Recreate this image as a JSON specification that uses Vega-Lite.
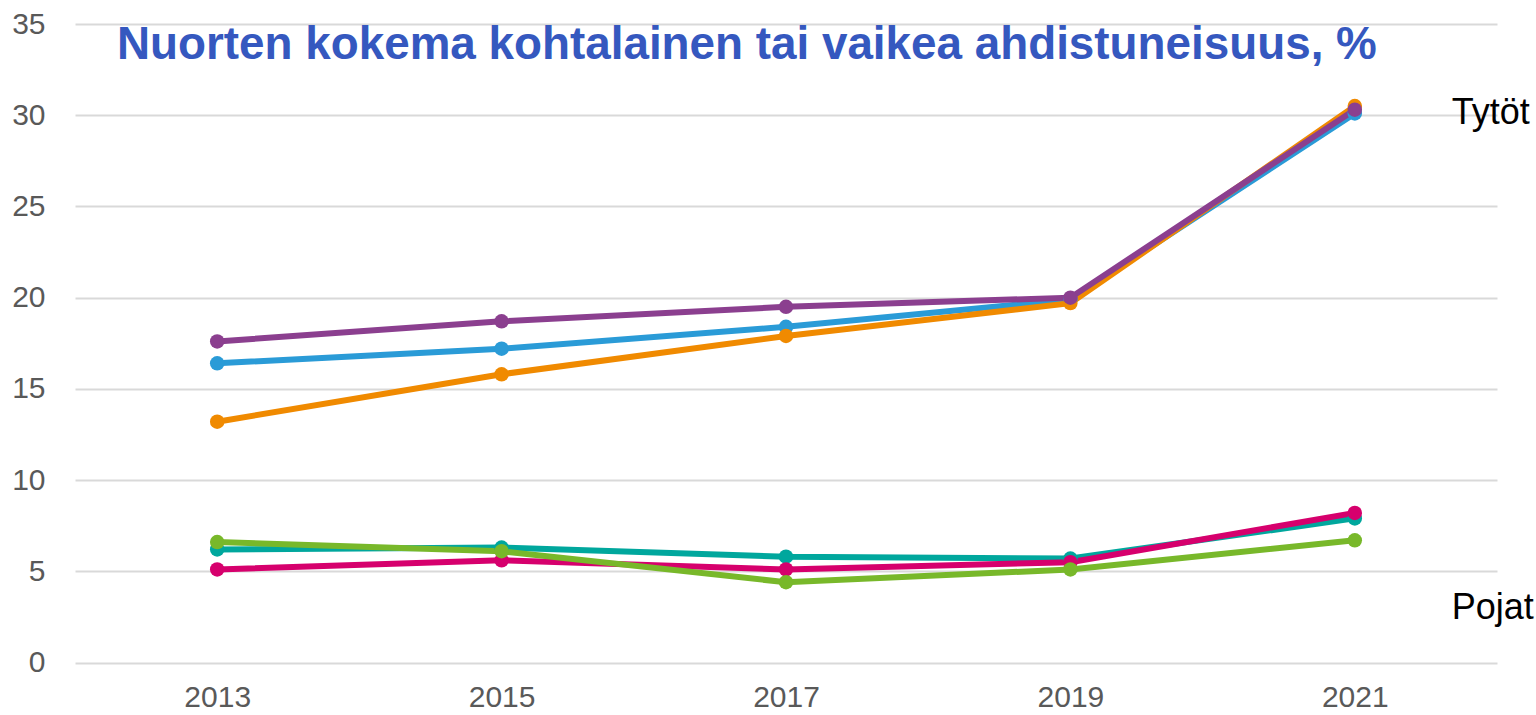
{
  "$schema": "https://vega.github.io/schema/vega-lite/v6.json",
  "width": 1422,
  "height": 638.5,
  "autosize": {"type": "none"},
  "padding": {"left": 75, "top": 24, "right": 39, "bottom": 52.5},
  "background": "white",
  "title": {
    "text": "Nuorten kokema kohtalainen tai vaikea ahdistuneisuus, %",
    "anchor": "start",
    "frame": "group",
    "orient": "top",
    "offset": 0,
    "dx": 42,
    "dy": 96,
    "baseline": "alphabetic",
    "font": "Liberation Sans",
    "fontWeight": "bold",
    "fontSize": 45.8,
    "color": "#3558BF"
  },
  "datasets": {
    "series": [
      {"series": "Tytöt ammatillinen", "year": "2013", "value": 16.4},
      {"series": "Tytöt ammatillinen", "year": "2015", "value": 17.2},
      {"series": "Tytöt ammatillinen", "year": "2017", "value": 18.4},
      {"series": "Tytöt ammatillinen", "year": "2019", "value": 19.9},
      {"series": "Tytöt ammatillinen", "year": "2021", "value": 30.1},
      {"series": "Tytöt lukio", "year": "2013", "value": 13.2},
      {"series": "Tytöt lukio", "year": "2015", "value": 15.8},
      {"series": "Tytöt lukio", "year": "2017", "value": 17.9},
      {"series": "Tytöt lukio", "year": "2019", "value": 19.7},
      {"series": "Tytöt lukio", "year": "2021", "value": 30.5},
      {"series": "Tytöt 8.–9. lk", "year": "2013", "value": 17.6},
      {"series": "Tytöt 8.–9. lk", "year": "2015", "value": 18.7},
      {"series": "Tytöt 8.–9. lk", "year": "2017", "value": 19.5},
      {"series": "Tytöt 8.–9. lk", "year": "2019", "value": 20.0},
      {"series": "Tytöt 8.–9. lk", "year": "2021", "value": 30.3},
      {"series": "Pojat ammatillinen", "year": "2013", "value": 6.2},
      {"series": "Pojat ammatillinen", "year": "2015", "value": 6.3},
      {"series": "Pojat ammatillinen", "year": "2017", "value": 5.8},
      {"series": "Pojat ammatillinen", "year": "2019", "value": 5.7},
      {"series": "Pojat ammatillinen", "year": "2021", "value": 7.9},
      {"series": "Pojat 8.–9. lk", "year": "2013", "value": 5.1},
      {"series": "Pojat 8.–9. lk", "year": "2015", "value": 5.6},
      {"series": "Pojat 8.–9. lk", "year": "2017", "value": 5.1},
      {"series": "Pojat 8.–9. lk", "year": "2019", "value": 5.5},
      {"series": "Pojat 8.–9. lk", "year": "2021", "value": 8.2},
      {"series": "Pojat lukio", "year": "2013", "value": 6.6},
      {"series": "Pojat lukio", "year": "2015", "value": 6.1},
      {"series": "Pojat lukio", "year": "2017", "value": 4.4},
      {"series": "Pojat lukio", "year": "2019", "value": 5.1},
      {"series": "Pojat lukio", "year": "2021", "value": 6.7}
    ],
    "labels": [
      {"label": "Tytöt", "year": "2021", "value": 30.1},
      {"label": "Pojat", "year": "2021", "value": 3.0}
    ]
  },
  "config": {
    "view": {"stroke": null},
    "font": "Liberation Sans"
  },
  "layer": [
    {
      "data": {"name": "series"},
      "mark": {"type": "line", "strokeWidth": 6, "point": {"filled": true, "size": 210, "opacity": 1}},
      "encoding": {
        "x": {
          "field": "year",
          "type": "ordinal",
          "sort": null,
          "scale": {"type": "point", "padding": 0.5},
          "axis": {
            "title": null,
            "labelAngle": 0,
            "domain": false,
            "ticks": false,
            "labelFontSize": 30,
            "labelColor": "#595959",
            "labelPadding": 20,
            "grid": false
          }
        },
        "y": {
          "field": "value",
          "type": "quantitative",
          "scale": {"domain": [0, 35], "nice": false, "zero": true},
          "axis": {
            "title": null,
            "values": [0, 5, 10, 15, 20, 25, 30, 35],
            "domain": false,
            "ticks": false,
            "labelFontSize": 30,
            "labelColor": "#595959",
            "labelPadding": 30,
            "gridColor": "#d9d9d9",
            "gridWidth": 2
          }
        },
        "color": {
          "field": "series",
          "type": "nominal",
          "sort": null,
          "scale": {
            "domain": ["Tytöt ammatillinen", "Tytöt lukio", "Tytöt 8.–9. lk", "Pojat ammatillinen", "Pojat 8.–9. lk", "Pojat lukio"],
            "range": ["#2A9BD7", "#F08A00", "#8B3F8F", "#00A79D", "#D6006D", "#78B82A"]
          },
          "legend": null
        }
      }
    },
    {
      "data": {"name": "labels"},
      "mark": {"type": "text", "align": "left", "baseline": "middle", "dx": 97, "fontSize": 36, "color": "#000000"},
      "encoding": {
        "x": {"field": "year", "type": "ordinal"},
        "y": {"field": "value", "type": "quantitative"},
        "text": {"field": "label"}
      }
    }
  ]
}
